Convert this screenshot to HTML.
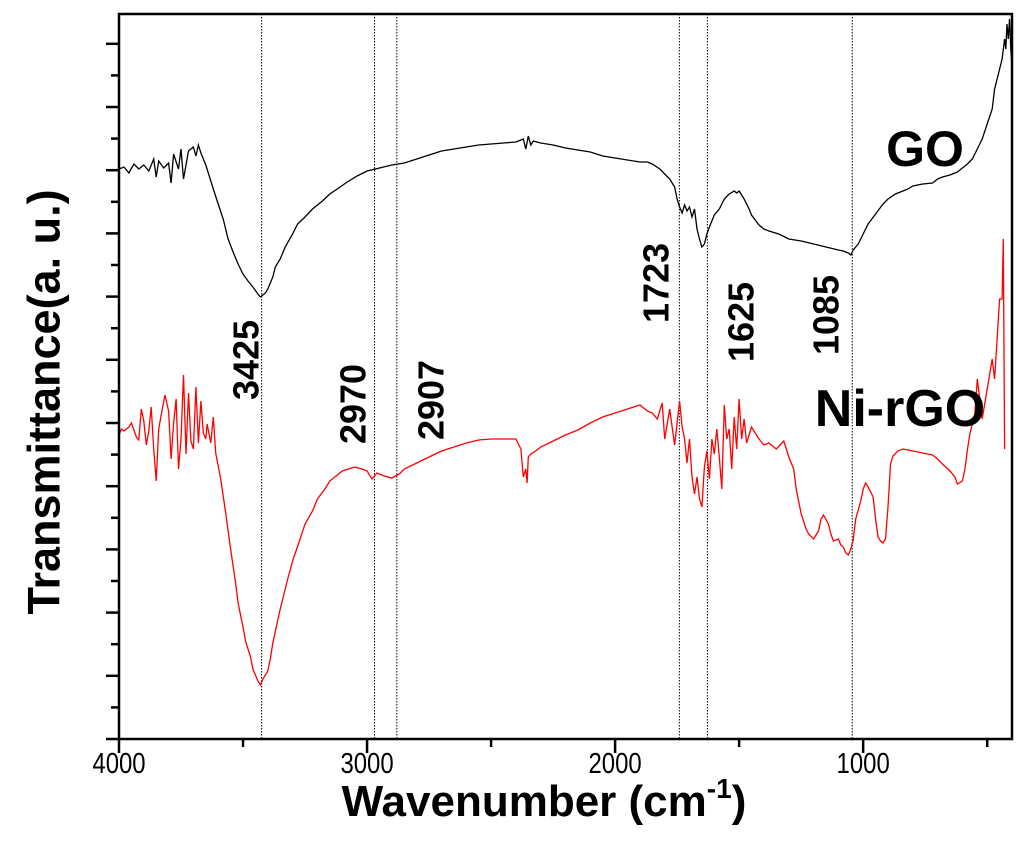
<!DOCTYPE html>
<html><head><meta charset="utf-8"><style>
html,body{margin:0;padding:0;background:#fff;}
svg{display:block;font-family:"Liberation Sans",Arial,sans-serif;}
</style></head><body>
<svg id="chart" width="1024" height="863" viewBox="0 0 1024 863"></svg>
<script>
// data (wavenumber, and height-above-baseline values in arbitrary units)
const goWave = [4000,3980,3960,3940,3920,3900,3880,3860,3850,3840,3820,3800,3790,3780,3760,3750,3740,3720,3700,3690,3680,3670,3650,3620,3600,3580,3560,3540,3520,3500,3480,3460,3440,3430,3410,3400,3380,3370,3350,3330,3300,3280,3250,3220,3180,3150,3120,3080,3040,3000,2950,2900,2850,2800,2750,2700,2650,2600,2550,2500,2450,2400,2370,2360,2350,2340,2330,2300,2250,2200,2150,2100,2050,2000,1950,1900,1870,1850,1820,1800,1780,1760,1750,1740,1730,1720,1710,1700,1690,1680,1670,1660,1650,1640,1630,1620,1600,1580,1560,1540,1520,1510,1500,1480,1460,1450,1420,1400,1380,1340,1300,1250,1200,1150,1100,1080,1060,1050,1040,1020,1000,980,950,920,900,870,850,820,800,760,720,700,680,650,620,600,580,560,540,520,500,480,470,460,450,440,430,425,420,415,410,405,400];
const goVal  = [570,572,566,575,570,574,568,580,562,578,571,576,556,585,570,590,560,588,592,583,594,586,574,550,535,520,500,487,475,465,458,452,445,442,446,450,462,472,480,492,505,515,522,530,538,545,550,557,563,568,571,574,576,580,584,588,590,592,594,595,596,597,600,590,603,594,598,596,594,591,589,587,583,581,579,577,577,575,570,565,560,552,540,532,526,534,528,532,522,530,510,500,492,495,505,512,524,530,540,545,548,546,548,540,530,524,514,510,508,505,500,498,495,492,489,488,486,484,489,495,505,515,525,535,540,545,547,550,553,555,556,560,562,564,567,571,575,580,590,600,615,630,650,660,670,680,700,690,715,700,720,690,670];
const niWave = [4000,3990,3980,3960,3950,3930,3920,3910,3900,3890,3880,3870,3860,3850,3840,3830,3815,3800,3790,3780,3770,3760,3750,3740,3730,3720,3710,3700,3690,3680,3670,3660,3650,3645,3630,3620,3610,3590,3570,3550,3530,3520,3500,3490,3470,3460,3440,3430,3420,3400,3390,3380,3350,3320,3300,3270,3250,3220,3200,3170,3150,3120,3100,3050,3020,3000,2980,2960,2930,2900,2870,2850,2800,2750,2700,2650,2600,2550,2500,2450,2400,2380,2370,2360,2355,2350,2340,2320,2300,2250,2200,2150,2100,2050,2000,1950,1900,1870,1850,1830,1810,1800,1780,1760,1750,1740,1730,1720,1710,1700,1690,1680,1670,1660,1650,1640,1630,1620,1610,1600,1590,1580,1570,1560,1550,1540,1530,1520,1510,1500,1490,1480,1470,1450,1420,1400,1380,1350,1320,1300,1280,1270,1250,1230,1220,1200,1180,1170,1160,1140,1130,1120,1100,1090,1080,1070,1060,1050,1040,1030,1010,1000,990,980,960,950,940,930,920,910,900,890,880,860,840,800,760,720,700,680,650,630,620,600,590,580,570,560,550,540,520,500,480,470,460,450,440,435,430,425,420,418,415,412,410,405,400];
const niVal  = [304,310,308,312,316,302,299,330,318,294,308,332,290,258,310,324,344,328,280,316,340,270,300,364,285,346,298,290,352,296,338,306,300,315,296,322,286,260,226,190,156,136,112,98,82,70,58,54,60,68,80,96,130,160,178,200,215,228,240,250,258,264,268,272,270,268,260,266,263,261,265,270,276,282,288,292,296,299,300,300,300,290,262,270,256,282,285,288,292,298,304,309,316,322,326,330,334,328,326,320,336,300,330,294,316,338,312,300,276,300,262,245,262,240,232,272,288,260,300,285,310,282,250,334,300,310,270,322,290,340,300,320,296,312,300,294,296,290,298,282,270,250,225,210,205,200,208,220,224,215,205,198,200,194,192,186,184,190,199,220,238,250,256,252,242,220,202,198,196,200,232,275,283,288,290,288,286,284,280,275,268,262,255,258,270,289,305,315,325,360,320,350,380,360,400,440,440,500,290];

const X0=119, X1=1012, W0=4000, W1=400, YB=739, YT=14;
function xs(w){return X0+(W0-w)*(X1-X0)/(W0-W1);}
function ys(v){return YB-v;}
const NS="http://www.w3.org/2000/svg";
const svg=document.getElementById('chart');
function mk(tag,attrs,parent){const e=document.createElementNS(NS,tag);for(const k in attrs)e.setAttribute(k,attrs[k]);(parent||svg).appendChild(e);return e;}

const xTicks=[4000,3000,2000,1000];
const xMinor=[3500,2500,1500,500];
const peakWave=[3425,2970,2880,1741,1628,1044];
const peakLabels=["3425","2970","2907","1723","1625","1085"];
const peakLabelPos=[[246,360],[353,404],[431,400],[656,283],[741,322],[826,315]];

const gLines=mk('g',{});


peakWave.forEach((w,i)=>{
  const l=mk('line',{x1:xs(w),x2:xs(w),y1:YT,y2:YB,stroke:'#000','stroke-width':1,'stroke-dasharray':'1.5,1.5'},gLines);
  
  
});

function linePath(wv,vals){
  let d='';
  for(let i=0;i<wv.length;i++){
    const x=xs(wv[i]).toFixed(1), y=ys(vals[i]).toFixed(1);
    d+=(i===0?'M':' L')+x+' '+y;
  }
  return d;
}
const goLine=mk('path',{d:linePath(goWave,goVal),fill:'none',stroke:'#000','stroke-width':1.3,'stroke-linejoin':'miter'});


const niLine=mk('path',{d:linePath(niWave,niVal),fill:'none',stroke:'#ff0000','stroke-width':1.3});



const frame=mk('rect',{x:X0,y:YT,width:X1-X0,height:YB-YT,fill:'none',stroke:'#000','stroke-width':2.5});



xTicks.forEach(w=>{
  mk('line',{x1:xs(w),x2:xs(w),y1:YB,y2:YB+14,stroke:'#000','stroke-width':2.5});
  const t=mk('text',{x:xs(w),y:773,'text-anchor':'middle','font-size':26,fill:'#000',transform:'translate('+xs(w)+' 773) scale(0.92 1.1) translate('+(-xs(w))+' -773)'});
  t.textContent=w;
  
  
});
xMinor.forEach(w=>{mk('line',{x1:xs(w),x2:xs(w),y1:YB,y2:YB+8,stroke:'#000','stroke-width':2.5});});
for(let k=0;k<=22;k++){
  const y=YB-k*31.6; if(y<YT+5) break;
  mk('line',{x1:X0,x2:X0-(k%2===0?13:8),y1:y,y2:y,stroke:'#000','stroke-width':2.5});
}

peakLabels.forEach((s,i)=>{
  const [x,y]=peakLabelPos[i];
  const t=mk('text',{x:x,y:y,'text-anchor':'middle','font-size':36,'font-weight':'bold',fill:'#000',transform:'rotate(-90 '+x+' '+y+')','dominant-baseline':'central'});
  t.textContent=s;
  
  
});

const go=mk('text',{x:925,y:166,'text-anchor':'middle','font-size':50,'font-weight':'bold',fill:'#000'});
go.textContent='GO';


const ni=mk('text',{x:900,y:426,'text-anchor':'middle','font-size':52,'font-weight':'bold',fill:'#000'});
ni.textContent='Ni-rGO';



const xt=mk('text',{x:544,y:816,'text-anchor':'middle','font-size':44,'font-weight':'bold',fill:'#000'});
xt.innerHTML='Wavenumber (cm<tspan font-size="28" dy="-18">-1</tspan><tspan dy="18">)</tspan>';


const yt=mk('text',{x:44,y:402,'text-anchor':'middle','font-size':45,'font-weight':'bold',fill:'#000',transform:'rotate(-90 44 402)','dominant-baseline':'central'});
yt.textContent='Transmittance(a. u.)';


</script>
</body></html>
